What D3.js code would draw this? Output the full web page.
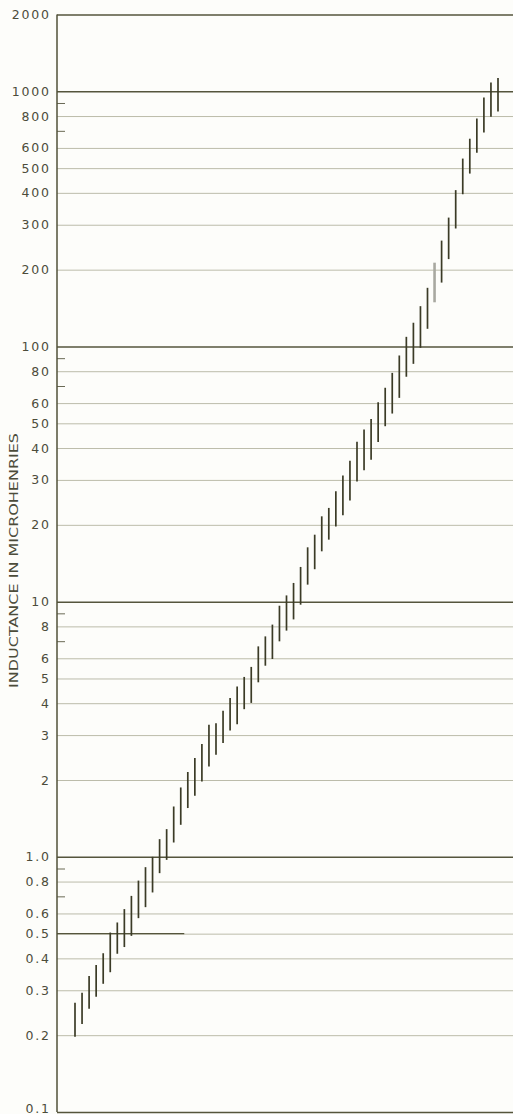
<!DOCTYPE html>
<html>
<head>
<meta charset="utf-8">
<script src="https://cdn.jsdelivr.net/npm/d3@7"></script>
<style>
  html, body { margin: 0; padding: 0; background: #fdfdfa; }
  svg { display: block; }
</style>
</head>
<body>
<svg id="chart" width="513" height="1114"></svg>
<script>
// Inductance ranges, one vertical bar per step (microhenries)
const bandLow = [
  0.197, 0.221, 0.254, 0.283, 0.318, 0.353, 0.417, 0.443, 0.49, 0.575,
  0.635, 0.725, 0.863, 0.973, 1.138, 1.335, 1.553, 1.735, 1.974, 2.26,
  2.51, 2.79, 3.13, 3.31, 3.79, 4.01, 4.83, 5.61, 5.96, 6.99,
  7.70, 8.52, 9.73, 11.66, 13.4, 15.75, 17.5, 19.7, 21.8, 24.9,
  29.6, 32.7, 36.0, 42.2, 48.7, 54.6, 62.9, 76.1, 85.5, 98.8,
  117.3, 149, 178, 220, 290, 395, 476, 575, 689, 795,
  833
];
const bandHigh = [
  0.268, 0.293, 0.341, 0.377, 0.419, 0.505, 0.553, 0.624, 0.703, 0.807,
  0.911, 1.0, 1.173, 1.284, 1.575, 1.87, 2.15, 2.44, 2.767, 3.293,
  3.34, 3.74, 4.19, 4.65, 5.07, 5.55, 6.68, 7.31, 8.13, 9.64,
  10.58, 11.84, 13.68, 16.33, 18.3, 21.6, 23.3, 27.1, 31.2, 35.7,
  42.3, 47.3, 52.0, 60.5, 68.9, 78.8, 92.2, 109.1, 123.9, 143.9,
  169.8, 213, 260, 320, 410, 545, 652, 782, 945, 1082,
  1128
];

// Axis ticks
const tickValues = [2000, 1000, 800, 600, 500, 400, 300, 200,
  100, 80, 60, 50, 40, 30, 20, 10, 8, 6, 5, 4, 3, 2,
  1, 0.8, 0.6, 0.5, 0.4, 0.3, 0.2, 0.1];
const decadeValues = [1000, 100, 10, 1];
const minorValues = [900, 700, 90, 70, 9, 7, 0.9, 0.7];
const axisTitle = "INDUCTANCE IN MICROHENRIES";

// Dimension
const margin = { left: 57, top: 14.5, right: 513, bottom: 1112 };
const ink = "#3b3b26";
const textInk = "#4c4c3a";

const svg = d3.select("#chart");

const y = d3.scaleLog()
  .domain([0.1, 2000])
  .range([margin.bottom, margin.top]);

const x = d3.scaleLinear()
  .domain([0, bandLow.length - 1])
  .range([75, 498]);

const fmt = v => v === 1 ? "1.0" : (v < 1 ? d3.format(".1f")(v) : String(v));

// Grid lines + labels
// --------------------
const axis = svg.append("g")
  .attr("transform", `translate(${margin.left},0)`)
  .call(d3.axisLeft(y)
    .tickValues(tickValues)
    .tickSize(-(margin.right - margin.left))
    .tickPadding(8)
    .tickFormat(fmt));

axis.select(".domain").remove();

const isDark = d => decadeValues.includes(d) || d === 2000 || d === 0.1;

axis.selectAll(".tick line")
  .attr("stroke", d => isDark(d) ? "#55553c" : "#bcbcaa")
  .attr("stroke-width", d => isDark(d) ? 1.5 : 1);

axis.selectAll(".tick text")
  .attr("fill", textInk)
  .attr("font-family", "'DejaVu Sans', sans-serif")
  .attr("font-size", 12.5)
  .attr("letter-spacing", "1.8px")
  .attr("dx", "1.8px")
  .attr("y", d => d === 0.1 ? -4 : 0);

// Darker stroke on the left part of the 0.5 line
svg.append("line")
  .attr("x1", margin.left)
  .attr("x2", x(15.5))
  .attr("y1", y(0.5))
  .attr("y2", y(0.5))
  .attr("stroke", "#55553c")
  .attr("stroke-width", 1.3);

// Minor ticks (7 and 9 of each decade)
const minor = svg.append("g")
  .attr("transform", `translate(${margin.left},0)`)
  .call(d3.axisLeft(y)
    .tickValues(minorValues)
    .tickSize(-8)
    .tickFormat(""));
minor.select(".domain").remove();
minor.selectAll(".tick line")
  .attr("stroke", "#6a6a55")
  .attr("stroke-width", 1);

// Left axis line
svg.append("line")
  .attr("x1", margin.left)
  .attr("x2", margin.left)
  .attr("y1", y(2000))
  .attr("y2", y(0.1))
  .attr("stroke", "#505038")
  .attr("stroke-width", 1.5);

// Range bars
svg.append("g")
  .attr("id", "bars")
  .selectAll("line")
  .data(bandLow.map((lo, i) => ({ i: i, lo: lo, hi: bandHigh[i] })))
  .enter().append("line")
  .attr("x1", d => x(d.i))
  .attr("x2", d => x(d.i))
  .attr("y1", d => y(d.lo))
  .attr("y2", d => y(d.hi))
  .attr("stroke", d => d.i === 51 ? "#a8a8a0" : ink)
  .attr("stroke-width", d => d.i === 51 ? 2.6 : 1.7);

// Axis title
svg.append("text")
  .text(axisTitle)
  .attr("transform", `translate(18, ${y(14.5)}) rotate(-90)`)
  .attr("text-anchor", "middle")
  .attr("font-family", "'DejaVu Sans', sans-serif")
  .attr("font-size", 12.5)
  .attr("textLength", 255)
  .attr("lengthAdjust", "spacingAndGlyphs")
  .attr("fill", textInk);
</script>
</body>
</html>
